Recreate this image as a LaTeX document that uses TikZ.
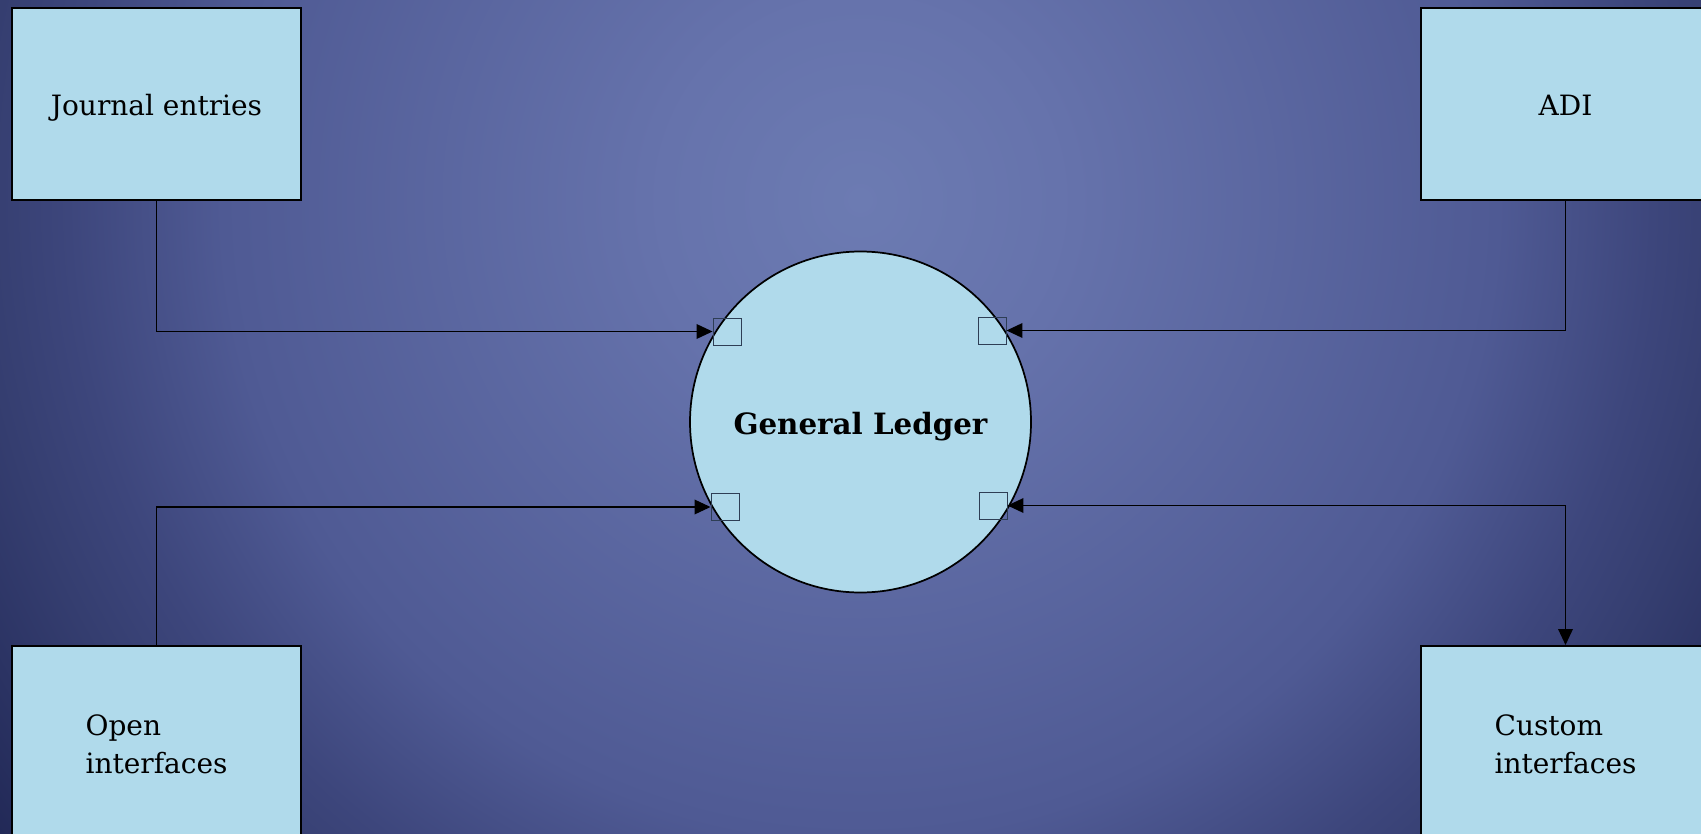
\documentclass[tikz,border=0pt]{standalone}
\usepackage{fontspec}
\setmainfont{DejaVu Serif}
\usetikzlibrary{arrows.meta,shapes.geometric}
\definecolor{boxfill}{HTML}{B0DAEB}
\definecolor{sqline}{HTML}{2E3E55}
\definecolor{bgA}{HTML}{6C7BB2}
\definecolor{bgB}{HTML}{6673AC}
\definecolor{bgC}{HTML}{4F5A94}
\definecolor{bgD}{HTML}{3D467C}
\definecolor{bgE}{HTML}{353E70}
\definecolor{bgF}{HTML}{212856}
\pgfdeclareradialshading{bgshade}{\pgfpoint{0bp}{0bp}}{%
  color(0bp)=(bgA); color(4.5bp)=(bgB); color(14.5bp)=(bgC); color(18bp)=(bgD); color(20bp)=(bgE); color(24.5bp)=(bgF); color(50bp)=(bgF)}
\tikzset{
  extbox/.style={draw=black, line width=1.5pt, fill=boxfill, rectangle, inner sep=0pt,
    minimum width=216.75pt, minimum height=144pt, font=\fontsize{21}{28.5}\selectfont},
  proc/.style={draw=black, line width=1.3pt, fill=boxfill, circle, inner sep=0pt, minimum size=255.75pt,
    font=\bfseries\fontsize{22}{26}\selectfont},
  port/.style={draw=sqline, line width=0.7pt, rectangle, inner sep=0pt, minimum width=21pt, minimum height=20.25pt},
  flow/.style={draw=black, line width=1pt, -{Triangle[length=12pt,width=11pt]}},
  biflow/.style={draw=black, line width=1pt, {Triangle[length=12pt,width=11pt]}-{Triangle[length=12pt,width=11pt]}}
}
\newcommand{\oneline}[2]{\raisebox{#1}[0pt][0pt]{#2}}
\newcommand{\twoline}[3]{\raisebox{#1}[0pt][0pt]{\begin{tabular}[t]{@{}l@{}}#2\\#3\end{tabular}}}
\begin{document}
\begin{tikzpicture}[x=0.75pt, y=-0.75pt]
\useasboundingbox (0,0) rectangle (1701,834);
\begin{scope}
  \clip (0,0) rectangle (1701,834);
  \shade[shading=bgshade] (860,200) circle[radius=825pt];
\end{scope}
\node[extbox] (jour) at (156.5,104) {\oneline{-9pt}{Journal entries}};
\node[extbox] (adi) at (1565.5,104) {\oneline{-9pt}{ADI}};
\node[extbox] (open) at (156.5,742) {\twoline{5.25pt}{Open}{interfaces}};
\node[extbox] (cust) at (1565.5,742) {\twoline{5.25pt}{Custom}{interfaces}};
\node[proc] (gl) at (860.5,422) {\oneline{-9pt}{General Ledger}};
\node[port] (p1) at (727,331.5) {};
\node[port] (p2) at (992,330.5) {};
\node[port] (p3) at (725,507) {};
\node[port] (p4) at (993,505.5) {};
\draw[flow] (jour.south) |- (p1.west);
\draw[flow] (adi.south) |- (p2.east);
\draw[flow] (open.north) |- (p3.west);
\draw[biflow] (p4.east) -| (cust.north);
\end{tikzpicture}
\end{document}
